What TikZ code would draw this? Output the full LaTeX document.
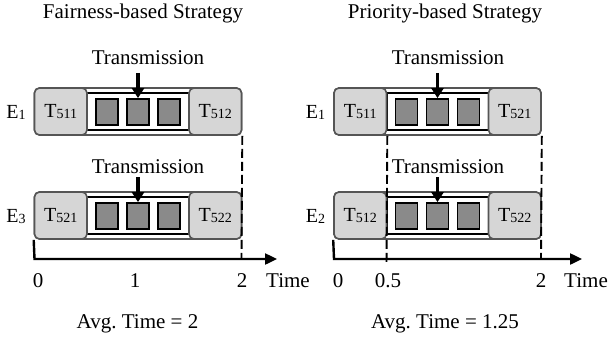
\documentclass[tikz,border=0pt]{standalone}
\usepackage{fontspec}
\setmainfont{Liberation Serif}
\usetikzlibrary{arrows.meta}

\definecolor{boxfill}{HTML}{D6D6D6}
\definecolor{boxedge}{HTML}{555555}
\definecolor{slotfill}{HTML}{8A8A8A}

% small index digits, set almost on the baseline
\newcommand\idx[1]{\raisebox{-1pt}{\fontsize{14}{14}\selectfont #1}}

% one schedule row: #1 name prefix, #2 left edge, #3 vertical centre,
% #4 row label, #5 first task, #6 last task
\newcommand\taskrow[6]{%
  \node[bar] (#1bar) at (#2+103.5,#3) {};
  \node[slotframe] (#1frame) at (#2+103.75,#3) {};
  \node[task] (#1first) at (#2+26.25,#3) {#5};
  \node[task] (#1last) at (#2+180.75,#3) {#6};
  \node[slot] (#1s1) at (#2+72.5,#3+0.5) {};
  \node[slot] (#1s2) at (#2+103.5,#3+0.5) {};
  \node[slot] (#1s3) at (#2+134.5,#3+0.5) {};
  \node[rowlabel] (#1lab) at (#2-18.5,#3+1) {#4};
  \coordinate (#1src) at (#2+103.5,#3-38.5);
  \draw[push] (#1src) -- (#1s2.north);
}

\begin{document}
\frenchspacing
\begin{tikzpicture}[x=1pt,y=-1pt,
  txt/.style={font=\fontsize{21}{25}\selectfont, inner sep=0pt},
  rowlabel/.style={font=\fontsize{20}{24}\selectfont, inner sep=0pt},
  bar/.style={draw=boxedge, line width=1.6pt, fill=white, rounded corners=5pt,
    minimum width=207pt, minimum height=47pt, inner sep=0pt},
  task/.style={draw=boxedge, line width=1.6pt, fill=boxfill, rounded corners=5pt,
    minimum width=52.5pt, minimum height=47pt, inner sep=0pt,
    font=\fontsize{20}{24}\selectfont},
  slotframe/.style={draw=black, line width=2.4pt, fill=white,
    minimum width=102.5pt, minimum height=37pt, inner sep=0pt},
  slot/.style={draw=black, line width=1.8pt, fill=slotfill,
    minimum width=22pt, minimum height=26pt, inner sep=0pt},
  push/.style={line width=3.6pt, -{Triangle[width=12pt,length=10pt]}},
  axis/.style={line width=2.4pt, -{Triangle[width=11pt,length=12pt]}},
  guide/.style={line width=1.9pt, dash pattern=on 9pt off 4pt},
]
\useasboundingbox (0,0) rectangle (609,339);

% ---------------- fairness-based strategy ----------------
\node[txt, anchor=base] (ftitle) at (143,19) {Fairness-based Strategy};
\node[txt, anchor=base] (ftx1) at (148,65) {Transmission};
\node[txt, anchor=base] (ftx2) at (148,173) {Transmission};
\taskrow{fa}{34.5}{111.5}{E\idx{1}}{T\idx{511}}{T\idx{512}}
\taskrow{fb}{34.5}{215.5}{E\idx{3}}{T\idx{521}}{T\idx{522}}

\coordinate (fo) at (34.5,259);
\coordinate (fend) at (277,259);
\coordinate (fm2) at (241.5,259);
\draw[axis] (fbbar.south west) -- (fo) -- (fend);
\draw[guide] (falast.south east) -- (fm2);

\node[txt, anchor=base] (f0) at (38,287) {0};
\node[txt, anchor=base] (f1) at (135,287) {1};
\node[txt, anchor=base] (f2) at (242,287) {2};
\node[txt, anchor=base west] (ftime) at (266,287) {Time};
\node[txt, anchor=base] (favg) at (137.5,328) {Avg. Time = 2};

% ---------------- priority-based strategy ----------------
\node[txt, anchor=base] (ptitle) at (445,19) {Priority-based Strategy};
\node[txt, anchor=base] (ptx1) at (448,65) {Transmission};
\node[txt, anchor=base] (ptx2) at (448,173) {Transmission};
\taskrow{pa}{334}{111.5}{E\idx{1}}{T\idx{511}}{T\idx{521}}
\taskrow{pb}{334}{215.5}{E\idx{2}}{T\idx{512}}{T\idx{522}}

\coordinate (po) at (334,259);
\coordinate (pend) at (582,259);
\coordinate (pm1) at (386.5,265);
\coordinate (pm2) at (541,259);
\draw[axis] (pbbar.south west) -- (po) -- (pend);
\draw[guide] (pafirst.south east) -- (pm1);
\draw[guide] (palast.south east) -- (pm2);

\node[txt, anchor=base] (p0) at (338,287) {0};
\node[txt, anchor=base] (p05) at (388,287) {0.5};
\node[txt, anchor=base] (p2) at (541,287) {2};
\node[txt, anchor=base east] (ptime) at (608,287) {Time};
\node[txt, anchor=base] (pavg) at (445,328) {Avg. Time = 1.25};
\end{tikzpicture}
\end{document}
